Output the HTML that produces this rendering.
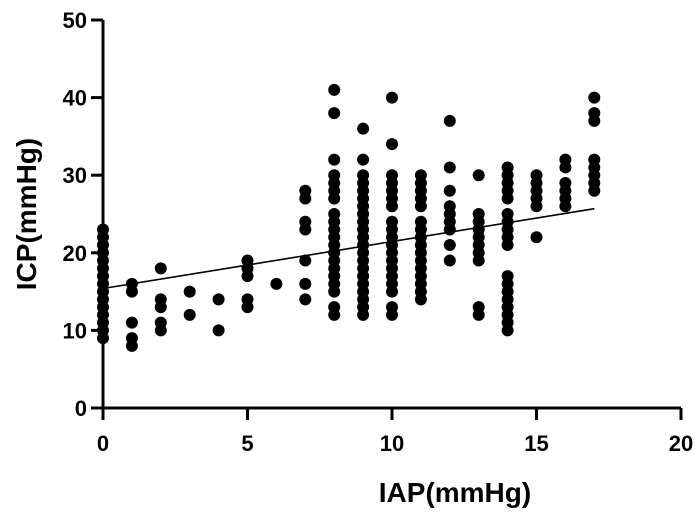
<!DOCTYPE html>
<html><head><meta charset="utf-8"><style>
html,body{margin:0;padding:0;background:#fff;}
svg{display:block;font-family:"Liberation Sans",Arial,sans-serif;}
</style></head><body>
<svg id="chart" width="700" height="522" viewBox="0 0 700 522"></svg>
<script>
const xTicks=[0,5,10,15,20];
const yTicks=[0,10,20,30,40,50];
const iapValues=[0,1,2,3,4,5,6,7,8,9,10,11,12,13,14,15,16,17];
const icpByIap=[
[9,10,11,12,13,14,15,16,17,18,19,20,21,22,23],
[16,15,11,9,8],
[18,14,13,11,10],
[15,12],
[14,10],
[19,18,17,14,13],
[16],
[28,27,24,23,19,16,14],
[41,38,32,30,29,28,27,25,24,23,22,21,20,19,18,17,16,15,13,12],
[36,32,30,29,28,27,26,25,24,23,22,21,20,19,18,17,16,15,14,13,12],
[40,34,30,29,28,27,26,24,23,22,21,20,19,18,17,16,15,13,12],
[30,29,28,27,26,24,23,22,21,20,19,18,17,16,15,14],
[37,31,28,26,25,24,23,21,19],
[30,25,24,23,22,21,20,19,13,12],
[31,30,29,28,27,25,24,23,22,21,17,16,15,14,13,12,11,10],
[30,29,28,27,26,22],
[32,31,29,28,27,26],
[40,38,37,32,31,30,29,28]
];
const fitRange=[0,17];
const fitIntercept=[15.4];
const fitSlope=[0.605];
const NS="http://www.w3.org/2000/svg";
const svg=document.getElementById('chart');
const X0=103,X1=681,Y0=408,Y1=20;
const sx=v=>X0+(v-0)/20*(X1-X0);
const sy=v=>Y0-(v-0)/50*(Y0-Y1);
function mk(t,a){const e=document.createElementNS(NS,t);for(const k in a)e.setAttribute(k,a[k]);svg.appendChild(e);return e;}
iapValues.forEach((x,i)=>{icpByIap[i].forEach(y=>{
const c=mk('circle',{cx:sx(x),cy:sy(y),r:6,fill:'#000'});


});});
const a=fitIntercept[0],b=fitSlope[0];
const rl=mk('line',{x1:sx(fitRange[0]),y1:sy(a+b*fitRange[0]),x2:sx(fitRange[1]),y2:sy(a+b*fitRange[1]),stroke:'#000','stroke-width':1.6});


const xa=mk('line',{x1:X0,y1:Y0,x2:X1,y2:Y0,stroke:'#000','stroke-width':3});


const ya=mk('line',{x1:X0,y1:Y0+1.5,x2:X0,y2:Y1,stroke:'#000','stroke-width':3});


xTicks.forEach(v=>{
 mk('line',{x1:sx(v),y1:Y0,x2:sx(v),y2:Y0+12,stroke:'#000','stroke-width':3});
 const t=mk('text',{x:sx(v),y:Y0+43,'text-anchor':'middle','font-size':22,'font-weight':'bold'});
 t.textContent=v;
 
 
});
yTicks.forEach(v=>{
 mk('line',{x1:X0-12,y1:sy(v),x2:X0,y2:sy(v),stroke:'#000','stroke-width':3});
 const t=mk('text',{x:X0-16,y:sy(v)+8,'text-anchor':'end','font-size':22,'font-weight':'bold'});
 t.textContent=v;
 
 
});
const xt=mk('text',{x:455,y:502,'text-anchor':'middle','font-size':28,'font-weight':'bold'});
xt.textContent='IAP(mmHg)';


const yt=mk('text',{x:0,y:0,'text-anchor':'middle','font-size':28,'font-weight':'bold',transform:'translate(36,214) rotate(-90)'});
yt.textContent='ICP(mmHg)';


</script>
</body></html>
